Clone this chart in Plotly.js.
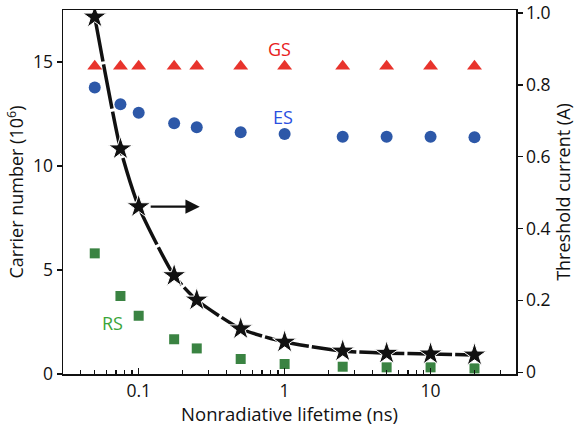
<!DOCTYPE html>
<html>
<head>
<meta charset="utf-8">
<script src="https://cdn.plot.ly/plotly-3.0.1.min.js"></script>
<style>html,body{margin:0;padding:0;background:#fff;}#chart{width:576px;height:430px;}</style>
</head>
<body>
<div id="chart"></div>
<script>
const lifetime = [0.05, 0.075, 0.1, 0.175, 0.25, 0.5, 1, 2.5, 5, 10, 20];
const gsCarriers = [14.8, 14.8, 14.8, 14.8, 14.8, 14.8, 14.8, 14.8, 14.8, 14.8, 14.8];
const esCarriers = [13.77, 12.97, 12.56, 12.05, 11.86, 11.62, 11.54, 11.41, 11.41, 11.41, 11.38];
const rsCarriers = [5.80, 3.75, 2.80, 1.67, 1.23, 0.72, 0.48, 0.35, 0.32, 0.32, 0.27];
const thresholdCurrent = [0.989, 0.622, 0.461, 0.269, 0.201, 0.121, 0.084, 0.059, 0.053, 0.051, 0.048];
const xTickVals = [0.1, 1, 10];
const xTickText = ['0.1', '1', '10'];
const xMinorVals = [0.04,0.05,0.06,0.07,0.08,0.09,0.2,0.3,0.4,0.5,0.6,0.7,0.8,0.9,2,3,4,5,6,7,8,9,20,30];
const leftTicks = [0, 5, 10, 15];
const rightTicks = [0, 0.2, 0.4, 0.6, 0.8, 1.0];
const rightTickText = ['0', '0.2', '0.4', '0.6', '0.8', '1.0'];

const font = {family: 'Open Sans, Noto Sans, sans-serif', size: 17, color: '#111'};

const traces = [
  {x: lifetime, y: gsCarriers, type: 'scatter', mode: 'markers', name: 'GS',
   marker: {symbol: 'triangle-up', size: 13, color: '#e8332c'}},
  {x: lifetime, y: esCarriers, type: 'scatter', mode: 'markers', name: 'ES',
   marker: {symbol: 'circle', size: 12, color: '#2d58a8'}},
  {x: lifetime, y: rsCarriers, type: 'scatter', mode: 'markers', name: 'RS',
   marker: {symbol: 'square', size: 10, color: '#3a8342'}},
  {x: lifetime, y: thresholdCurrent, type: 'scatter', mode: 'lines+markers', yaxis: 'y2', name: 'Ith',
   line: {color: '#111', width: 3.5, shape: 'spline', smoothing: 0.6, dash: '45px,3px'},
   marker: {symbol: 'star', size: 18, color: '#111', line: {color: '#fff', width: 1}}}
];

const layout = {
  width: 576, height: 430,
  margin: {l: 63, r: 60, t: 10, b: 56},
  showlegend: false,
  plot_bgcolor: '#fff', paper_bgcolor: '#fff',
  font: font,
  xaxis: {
    type: 'log', range: [Math.log10(0.0303), Math.log10(38.5)],
    tickvals: xTickVals, ticktext: xTickText,
    ticks: 'inside', ticklen: 6, tickwidth: 1.3, tickcolor: '#111',
    minor: {tickvals: xMinorVals, ticks: 'inside', ticklen: 4, tickwidth: 1.2, tickcolor: '#111'},
    showline: true, linecolor: '#111', linewidth: 1.5, mirror: true,
    showgrid: false, zeroline: false,
    tickfont: {size: 17.5},
    title: {text: 'Nonradiative lifetime (ns)', font: {size: 18.5}, standoff: 4}
  },
  yaxis: {
    range: [0, 17.5], tickvals: leftTicks,
    ticks: 'outside', ticklen: 5, tickwidth: 1.3, tickcolor: '#111',
    showline: true, linecolor: '#111', linewidth: 1.5,
    showgrid: false, zeroline: false,
    tickfont: {size: 17.5},
    title: {text: 'Carrier number (10<sup>6</sup>)', font: {size: 18}, standoff: 4}
  },
  yaxis2: {
    overlaying: 'y', side: 'right',
    range: [-0.005, 1.0085], tickvals: rightTicks, ticktext: rightTickText,
    ticks: 'outside', ticklen: 5, tickwidth: 1.3, tickcolor: '#111',
    showline: true, linecolor: '#111', linewidth: 1.5,
    showgrid: false, zeroline: false,
    tickfont: {size: 17.5},
    title: {text: 'Threshold current (A)', font: {size: 18}, standoff: 6}
  },
  annotations: [
    {xref: 'x', yref: 'y2', axref: 'x', ayref: 'y2',
     x: Math.log10(0.262), y: thresholdCurrent[2], ax: Math.log10(0.118), ay: thresholdCurrent[2],
     text: '', showarrow: true, arrowhead: 2, arrowsize: 1.3, arrowwidth: 2.2, arrowcolor: '#111'},
    {xref: 'paper', yref: 'paper', x: (279-63)/453, y: (374-49)/364, text: 'GS', showarrow: false,
     xanchor: 'center', yanchor: 'middle', font: {size: 18, color: '#e8201c'}},
    {xref: 'paper', yref: 'paper', x: (283-63)/453, y: (374-117)/364, text: 'ES', showarrow: false,
     xanchor: 'center', yanchor: 'middle', font: {size: 18, color: '#2a4fe0'}},
    {xref: 'paper', yref: 'paper', x: (112-63)/453, y: (374-323)/364, text: 'RS', showarrow: false,
     xanchor: 'center', yanchor: 'middle', font: {size: 18, color: '#3aa53a'}}
  ]
};

Plotly.newPlot('chart', traces, layout, {displayModeBar: false, staticPlot: true});
</script>
</body>
</html>
